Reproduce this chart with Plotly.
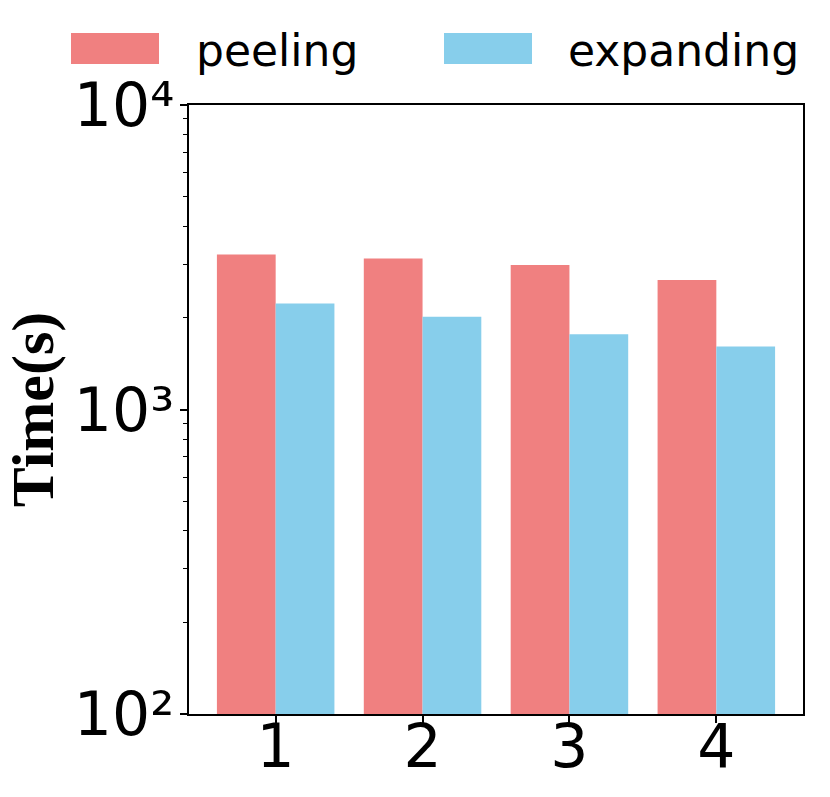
import plotly.graph_objects as go

# ------------------------
# Data
# ------------------------

categories = [1, 2, 3, 4]
peeling = [3230, 3130, 2980, 2660]
expanding = [2230, 2015, 1765, 1610]
series_names = ["peeling", "expanding"]
series_colors = ["#F08080", "#87CEEB"]

y_tickvals = [100, 1000, 10000]
y_ticktext = ["10²", "10³", "10⁴"]

tick_font = dict(family="DejaVu Sans", size=60, color="black")

# plot frame in pixels (used to place the hand-drawn legend)
left, top, right, bottom = 189, 105, 803, 714
plot_w = right - left
plot_h = bottom - top

# minor ticks 2..9 in each decade
minor_vals = [m * 10 ** e for e in (2, 3) for m in range(2, 10)]

# ------------------------
# Bars
# ------------------------

fig = go.Figure()

for name, values, color in zip(series_names, [peeling, expanding], series_colors):
    fig.add_trace(
        go.Bar(
            x=categories,
            y=values,
            name=name,
            marker=dict(color=color, line=dict(width=0)),
            showlegend=False
        )
    )

# ------------------------
# Legend drawn as patches + labels (matplotlib style)
# ------------------------

legend_items = [
    (series_names[0], series_colors[0], 71, 194),
    (series_names[1], series_colors[1], 444, 566),
]

for label, color, patch_x, text_x in legend_items:
    fig.add_shape(
        type="rect",
        xref="paper", yref="paper",
        x0=(patch_x - left) / plot_w, x1=(patch_x + 88 - left) / plot_w,
        y0=(bottom - 64) / plot_h, y1=(bottom - 33) / plot_h,
        fillcolor=color,
        line=dict(width=0)
    )
    fig.add_annotation(
        text=label,
        xref="paper", yref="paper",
        x=(text_x - left) / plot_w, y=(bottom - 50) / plot_h,
        xanchor="left", yanchor="middle",
        showarrow=False,
        font=dict(family="DejaVu Sans", size=44, color="black")
    )

# ------------------------
# Layout
# ------------------------

fig.update_layout(
    width=830,
    height=797,
    margin=dict(l=left, r=830 - right, t=top, b=797 - bottom),
    paper_bgcolor="white",
    plot_bgcolor="white",
    barmode="group",
    bargap=0.2,
    bargroupgap=0,
    xaxis=dict(
        range=[0.41, 4.59],
        tickvals=categories,
        ticks="outside",
        ticklen=7,
        tickwidth=1.5,
        tickcolor="black",
        tickfont=tick_font,
        ticklabelstandoff=-28,
        showline=True,
        linecolor="black",
        linewidth=1.5,
        mirror=True,
        showgrid=False,
        zeroline=False,
        automargin=False
    ),
    yaxis=dict(
        type="log",
        range=[2, 4],
        tickmode="array",
        tickvals=y_tickvals,
        ticktext=y_ticktext,
        ticks="outside",
        ticklen=7,
        tickwidth=1.5,
        tickcolor="black",
        tickfont=tick_font,
        ticklabelstandoff=-6,
        minor=dict(tickmode="array", tickvals=minor_vals, ticks="outside",
                   ticklen=4, tickwidth=1.2, tickcolor="black", showgrid=False),
        showline=True,
        linecolor="black",
        linewidth=1.5,
        mirror=True,
        showgrid=False,
        zeroline=False,
        automargin=False,
        title=dict(
            text="<b>Time(s)</b>",
            font=dict(family="Liberation Serif", size=60, color="black"),
            standoff=12
        )
    )
)

# page body has a default 8px margin, drop it so the figure sits at 0,0
fig.write_html(
    "out.html",
    config={"displayModeBar": False},
    post_script="document.body.style.margin = '0';"
)
